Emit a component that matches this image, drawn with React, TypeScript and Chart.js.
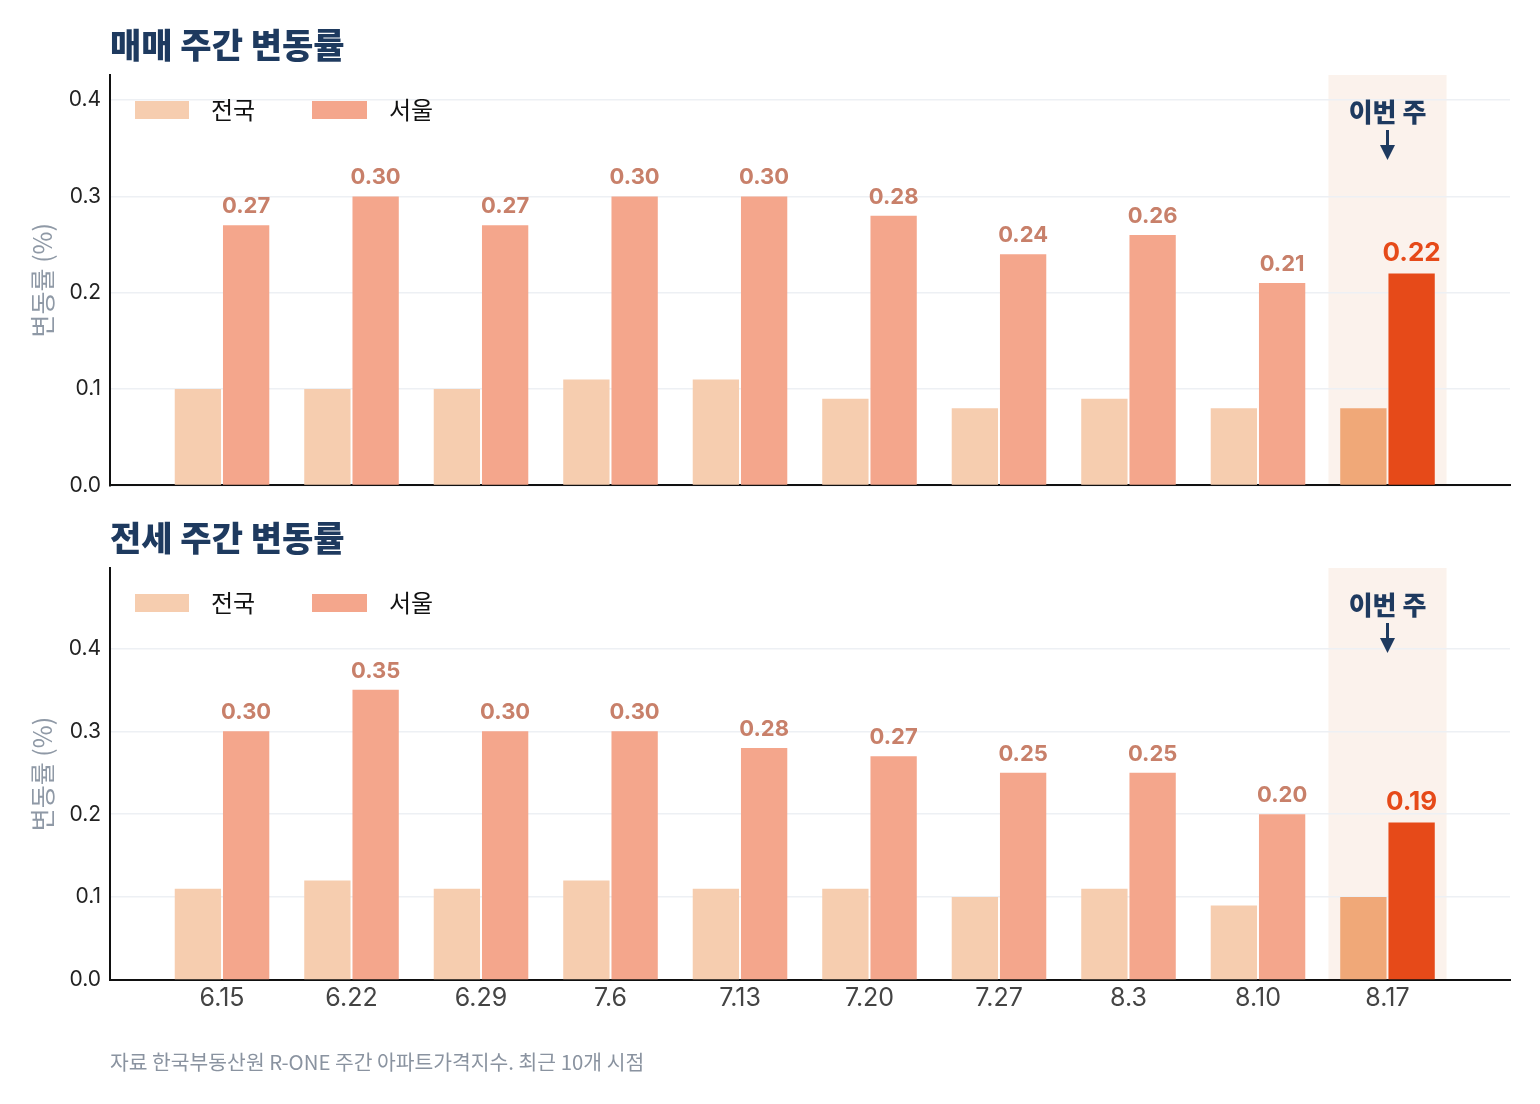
import React, { useEffect, useRef } from "react";
import { Chart, registerables } from "chart.js";
Chart.register(...registerables);

const weeks = ["6.15", "6.22", "6.29", "7.6", "7.13", "7.20", "7.27", "8.3", "8.10", "8.17"];
const saleNational = [0.1, 0.1, 0.1, 0.11, 0.11, 0.09, 0.08, 0.09, 0.08, 0.08];
const saleSeoul = [0.27, 0.3, 0.27, 0.3, 0.3, 0.28, 0.24, 0.26, 0.21, 0.22];
const rentNational = [0.11, 0.12, 0.11, 0.12, 0.11, 0.11, 0.1, 0.11, 0.09, 0.1];
const rentSeoul = [0.3, 0.35, 0.3, 0.3, 0.28, 0.27, 0.25, 0.25, 0.2, 0.19];
const yTicks = [0, 0.1, 0.2, 0.3, 0.4];
const seriesNames = ["전국", "서울"];
const panelTitles = ["매매 주간 변동률", "전세 주간 변동률"];
const yAxisTitle = "변동률 (%)";
const highlightLabel = "이번 주";
const sourceNote = "자료 한국부동산원 R-ONE 주간 아파트가격지수. 최근 10개 시점";

const FONT = 'Inter, "Noto Sans CJK KR", sans-serif';
const KFONT = '"Noto Sans CJK KR", Inter, sans-serif';
const C_NAT = "#F6CDAF";
const C_SEO = "#F4A68C";
const C_NAT_HI = "#F0A878";
const C_SEO_HI = "#E64A19";
const C_BAND = "#FBF2EC";
const C_NAVY = "#1E3A5F";
const C_LABEL = "#C8806A";

type PanelProps = {
  title: string;
  national: number[];
  seoul: number[];
  height: number;
  padTop: number;
  xHeight: number;
  showX: boolean;
  note?: string;
};

function Panel(props: PanelProps) {
  const ref = useRef<HTMLCanvasElement | null>(null);
  useEffect(() => {
    const canvas = ref.current;
    if (!canvas) return;
    const last = weeks.length - 1;
    const yMax = Math.max(...props.seoul) * 1.42;
    const decor = {
      id: "decor",
      beforeDraw(chart: any) {
        const { ctx, chartArea } = chart;
        const x = chart.scales.x;
        const l = x.getPixelForValue(last - 0.456);
        const r = x.getPixelForValue(last + 0.456);
        ctx.save();
        ctx.fillStyle = C_BAND;
        ctx.fillRect(l, chartArea.top, r - l, chartArea.bottom - chartArea.top);
        ctx.restore();
      },
      afterDatasetsDraw(chart: any) {
        const { ctx } = chart;
        const meta = chart.getDatasetMeta(1);
        ctx.save();
        ctx.textAlign = "center";
        ctx.textBaseline = "alphabetic";
        meta.data.forEach((bar: any, i: number) => {
          const hi = i === last;
          ctx.fillStyle = hi ? C_SEO_HI : C_LABEL;
          ctx.font = `bold ${hi ? 26 : 22}px ${FONT}`;
          ctx.fillText(props.seoul[i].toFixed(2), bar.x, bar.y - 12);
        });
        ctx.restore();
      },
      afterDraw(chart: any) {
        const { ctx, chartArea } = chart;
        const x = chart.scales.x;
        const left = chartArea.left;
        const top = chartArea.top;
        ctx.save();
        // title
        ctx.fillStyle = C_NAVY;
        ctx.font = `900 34px ${KFONT}`;
        ctx.textAlign = "left";
        ctx.textBaseline = "middle";
        ctx.fillText(props.title, left, top - 30);
        // legend
        const ly = top + 35;
        ctx.font = `24px ${KFONT}`;
        ctx.fillStyle = C_NAT;
        ctx.fillRect(left + 25, ly - 9, 54, 18);
        ctx.fillStyle = "#111";
        ctx.fillText(seriesNames[0], left + 101, ly);
        ctx.fillStyle = C_SEO;
        ctx.fillRect(left + 202, ly - 9, 55, 18);
        ctx.fillStyle = "#111";
        ctx.fillText(seriesNames[1], left + 279, ly);
        // annotation
        const cx = x.getPixelForValue(last);
        ctx.fillStyle = C_NAVY;
        ctx.strokeStyle = C_NAVY;
        ctx.font = `900 26px ${KFONT}`;
        ctx.textAlign = "center";
        ctx.fillText(highlightLabel, cx, top + 37);
        ctx.lineWidth = 3;
        ctx.beginPath();
        ctx.moveTo(cx, top + 55);
        ctx.lineTo(cx, top + 74);
        ctx.stroke();
        ctx.beginPath();
        ctx.moveTo(cx - 7.5, top + 70);
        ctx.lineTo(cx + 7.5, top + 70);
        ctx.lineTo(cx, top + 85);
        ctx.closePath();
        ctx.fill();
        // note
        if (props.note) {
          ctx.fillStyle = "#8A93A0";
          ctx.font = `20.4px ${KFONT}`;
          ctx.textAlign = "left";
          ctx.fillText(props.note, left, chart.height - 42);
        }
        ctx.restore();
      },
    };
    const chart = new Chart(canvas, {
      type: "bar",
      data: {
        datasets: [
          {
            label: seriesNames[0],
            data: props.national.map((v, i) => ({ x: i, y: v })),
            backgroundColor: props.national.map((_, i) => (i === last ? C_NAT_HI : C_NAT)),
            categoryPercentage: 0.745,
            barPercentage: 0.96,
          },
          {
            label: seriesNames[1],
            data: props.seoul.map((v, i) => ({ x: i, y: v })),
            backgroundColor: props.seoul.map((_, i) => (i === last ? C_SEO_HI : C_SEO)),
            categoryPercentage: 0.745,
            barPercentage: 0.96,
          },
        ],
      } as any,
      options: {
        animation: false,
        responsive: false,
        maintainAspectRatio: false,
        layout: { padding: { top: props.padTop, right: 30, left: 0, bottom: 0 } },
        plugins: { legend: { display: false }, title: { display: false }, tooltip: { enabled: false } },
        scales: {
          x: {
            type: "linear",
            offset: false,
            min: -0.865,
            max: 9.946,
            grid: { display: false, drawTicks: false },
            border: { display: true, color: "#111", width: 2 },
            afterBuildTicks(scale: any) {
              scale.ticks = weeks.map((_, i) => ({ value: i }));
            },
            afterFit(scale: any) {
              scale.height = props.xHeight;
            },
            ticks: {
              display: props.showX,
              autoSkip: false,
              maxRotation: 0,
              padding: 3,
              color: "#444",
              font: { family: FONT, size: 25 },
              callback: (v: any) => weeks[Math.round(Number(v))] ?? "",
            },
          },
          y: {
            min: 0,
            max: yMax,
            grid: { color: "#EDF0F4", lineWidth: 1.5, drawTicks: false },
            border: { display: true, color: "#111", width: 2 },
            afterBuildTicks(scale: any) {
              scale.ticks = yTicks.map((v) => ({ value: v }));
            },
            afterFit(scale: any) {
              scale.width = 110;
            },
            ticks: {
              padding: 9,
              color: "#222",
              font: { family: FONT, size: 21 },
              callback: (v: any) => Number(v).toFixed(1),
            },
            title: {
              display: true,
              text: yAxisTitle,
              color: "#8F99A6",
              font: { family: KFONT, size: 25 },
              padding: { top: 27, bottom: 0 },
            },
          },
        },
      } as any,
      plugins: [decor],
    });
    return () => chart.destroy();
  }, []);
  return (
    <canvas
      ref={ref}
      width={1540}
      height={props.height}
      style={{ display: "block", width: 1540, height: props.height }}
    />
  );
}

export default function App() {
  return (
    <div style={{ position: "absolute", left: 0, top: 0, width: 1540, height: 1104, background: "#fff" }}>
      <Panel title={panelTitles[0]} national={saleNational} seoul={saleSeoul} height={507} padTop={75} xHeight={18} showX={false} />
      <Panel
        title={panelTitles[1]}
        national={rentNational}
        seoul={rentSeoul}
        height={597}
        padTop={61}
        xHeight={124}
        showX={true}
        note={sourceNote}
      />
    </div>
  );
}
